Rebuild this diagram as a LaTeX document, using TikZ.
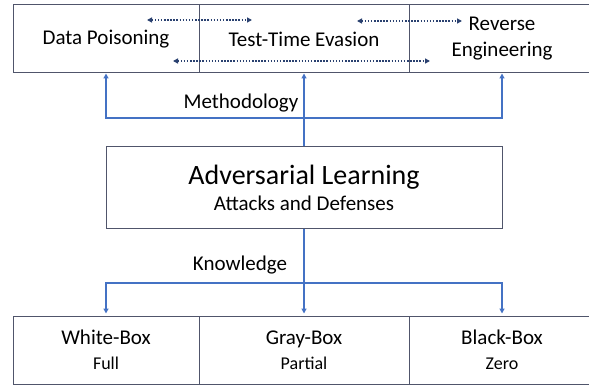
\documentclass[tikz,border=0pt]{standalone}
\usepackage{fontspec}
\setmainfont{Carlito}
\usetikzlibrary{arrows.meta}
\definecolor{boxline}{HTML}{50556B}
\definecolor{lineblue}{HTML}{4472C4}
\definecolor{navy}{HTML}{2A4170}
\tikzset{
  boxnode/.style={draw=boxline, line width=1pt, inner sep=0pt, align=center,
    font=\fontsize{21}{25}\selectfont},
  bluelink/.style={draw=lineblue, line width=1.2pt,
    -{Triangle[length=5pt,width=5pt]}},
  dotlink/.style={draw=navy, line width=1.5pt, dash pattern=on 1.5pt off 1.6pt,
    {Triangle[length=5pt,width=5pt]}-{Triangle[length=5pt,width=5pt]}},
  labeltext/.style={font=\fontsize{21}{25}\selectfont, inner sep=0pt}
}
\begin{document}
\begin{tikzpicture}[x=1pt,y=-1pt]
\useasboundingbox (0,0) rectangle (589,385);
\fill[white] (0,0) rectangle (589,385);
% top row
\node[boxnode, minimum width=186pt, minimum height=68pt] (dp) at (106,39) {Data Poisoning};
\node[boxnode, minimum width=210pt, minimum height=68pt] (tte) at (304,39) {Test-Time Evasion};
\node[boxnode, minimum width=186pt, minimum height=68pt] (re) at (502,39) {Reverse\\[1pt]Engineering};
% center
\node[boxnode, minimum width=396pt, minimum height=81pt] (adv) at (304,187.5)
  {\fontsize{28}{32}\selectfont Adversarial Learning\\[1pt]Attacks and Defenses};
% bottom row
\node[boxnode, minimum width=186pt, minimum height=68pt] (wb) at (106,350) {White-Box\\[0pt]{\fontsize{18}{22}\selectfont Full}};
\node[boxnode, minimum width=210pt, minimum height=68pt] (gb) at (304,350) {Gray-Box\\[0pt]{\fontsize{18}{22}\selectfont Partial}};
\node[boxnode, minimum width=186pt, minimum height=68pt] (bb) at (502,350) {Black-Box\\[0pt]{\fontsize{18}{22}\selectfont Zero}};
% labels
\node[labeltext] (meth) at (241,103) {Methodology};
\node[labeltext] (know) at (240,265) {Knowledge};
% methodology connectors
\coordinate (m) at (304,118);
\draw[bluelink] (adv.north) -- (tte.south);
\draw[bluelink] (m) -| (dp.south);
\draw[bluelink] (m) -| (re.south);
% knowledge connectors
\coordinate (k) at (304,283);
\draw[bluelink, shorten >=2pt] (adv.south) -- (gb.north);
\draw[bluelink, shorten >=2pt] (k) -| (wb.north);
\draw[bluelink, shorten >=2pt] (k) -| (bb.north);
% dotted arrows
\coordinate (d1a) at (147,20);
\coordinate (d1b) at (252,20);
\coordinate (d2a) at (357,21);
\coordinate (d2b) at (462,21);
\coordinate (d3a) at (173,61);
\coordinate (d3b) at (430,61);
\draw[dotlink] (d1a) -- (d1b);
\draw[dotlink] (d2a) -- (d2b);
\draw[dotlink] (d3a) -- (d3b);
\end{tikzpicture}
\end{document}
